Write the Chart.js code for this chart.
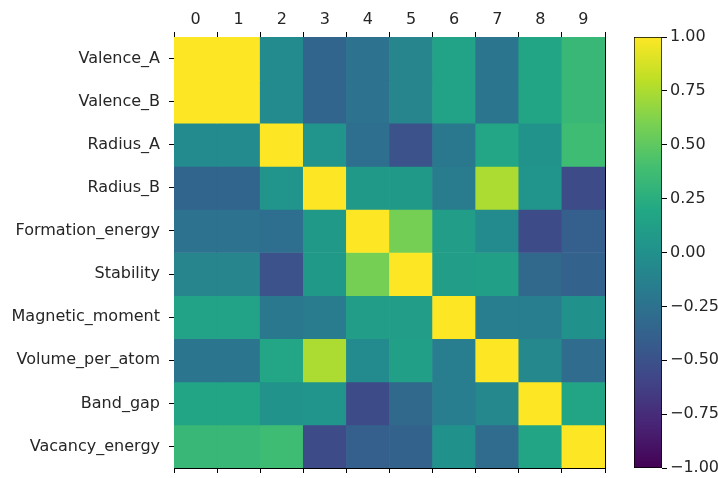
<!DOCTYPE html>
<html>
<head>
<meta charset="utf-8">
<script src="https://cdn.jsdelivr.net/npm/chart.js@4/dist/chart.umd.min.js"></script>
<style>
  html, body { margin: 0; padding: 0; background: #fff; }
  #wrap { position: relative; width: 718px; height: 478px; }
  #heat { position: absolute; left: 0; top: 0; }
  #cbar { position: absolute; left: 620px; top: 0; }
</style>
</head>
<body>
<div id="wrap">
  <canvas id="heat" width="606" height="478"></canvas>
  <canvas id="cbar" width="98" height="478"></canvas>
</div>
<script>
// Feature names (rows) and column indices
const features = ['Valence_A', 'Valence_B', 'Radius_A', 'Radius_B', 'Formation_energy',
                  'Stability', 'Magnetic_moment', 'Volume_per_atom', 'Band_gap', 'Vacancy_energy'];
const columns = ['0', '1', '2', '3', '4', '5', '6', '7', '8', '9'];

// Correlation coefficients, one row per feature
const valenceA        = [ 1.00,  1.00, -0.05, -0.35, -0.25, -0.10,  0.15, -0.22,  0.17,  0.33];
const valenceB        = [ 1.00,  1.00, -0.05, -0.35, -0.25, -0.10,  0.15, -0.22,  0.17,  0.33];
const radiusA         = [-0.05, -0.05,  1.00,  0.03, -0.28, -0.50, -0.20,  0.18,  0.02,  0.37];
const radiusB         = [-0.35, -0.35,  0.03,  1.00,  0.07,  0.07, -0.17,  0.75,  0.03, -0.55];
const formationEnergy = [-0.25, -0.25, -0.28,  0.07,  1.00,  0.58,  0.10, -0.05, -0.55, -0.40];
const stability       = [-0.10, -0.10, -0.50,  0.07,  0.58,  1.00,  0.10,  0.12, -0.32, -0.37];
const magneticMoment  = [ 0.15,  0.15, -0.20, -0.17,  0.10,  0.10,  1.00, -0.15, -0.15,  0.00];
const volumePerAtom   = [-0.22, -0.22,  0.18,  0.75, -0.05,  0.12, -0.15,  1.00, -0.07, -0.30];
const bandGap         = [ 0.17,  0.17,  0.02,  0.03, -0.55, -0.32, -0.15, -0.07,  1.00,  0.17];
const vacancyEnergy   = [ 0.33,  0.33,  0.37, -0.55, -0.40, -0.37,  0.00, -0.30,  0.17,  1.00];

const matrix = [valenceA, valenceB, radiusA, radiusB, formationEnergy,
                stability, magneticMoment, volumePerAtom, bandGap, vacancyEnergy];

// Colour bar range and ticks
const vmin = -1, vmax = 1;
const colorbarTicks = [-1, -0.75, -0.5, -0.25, 0, 0.25, 0.5, 0.75, 1];

// Viridis colormap
const viridisStops = ['#440154', '#482475', '#414487', '#355f8d', '#2a788e', '#21918c',
                      '#22a884', '#44bf70', '#7ad151', '#bddf26', '#fde725'];
function hexToRgb(h) {
  return [parseInt(h.slice(1, 3), 16), parseInt(h.slice(3, 5), 16), parseInt(h.slice(5, 7), 16)];
}
const viridisRgb = viridisStops.map(hexToRgb);
function viridis(v) {
  let t = (v - vmin) / (vmax - vmin);
  t = Math.max(0, Math.min(1, t));
  const pos = t * (viridisRgb.length - 1);
  const i = Math.min(Math.floor(pos), viridisRgb.length - 2);
  const f = pos - i;
  const a = viridisRgb[i], b = viridisRgb[i + 1];
  const c = a.map((x, k) => Math.round(x + (b[k] - x) * f));
  return `rgb(${c[0]},${c[1]},${c[2]})`;
}

const textColor = '#262626';
const font = { family: 'DejaVu Sans', size: 16 };

// Fix an axis' thickness and drop the extra room reserved for edge labels
function fixSize(dim, size) {
  return s => {
    s[dim] = size;
    s.paddingTop = 0; s.paddingBottom = 0; s.paddingLeft = 0; s.paddingRight = 0;
  };
}

// Heatmap: each row is a dataset of floating bars spanning one row band
const datasets = matrix.map((row, i) => ({
  label: features[i],
  data: row.map(() => [i - 0.5, i + 0.5]),
  backgroundColor: row.map(v => viridis(v)),
  borderWidth: 0,
  barPercentage: 1,
  categoryPercentage: 1,
  grouped: false,
  xAxisID: 'x',
  yAxisID: 'y'
}));

new Chart(document.getElementById('heat'), {
  type: 'bar',
  data: { labels: columns, datasets },
  options: {
    responsive: false,
    animation: false,
    layout: { padding: 0 },
    plugins: { legend: { display: false }, tooltip: { enabled: false } },
    scales: {
      x: {
        type: 'category',
        position: 'top',
        offset: true,
        grid: { drawOnChartArea: false, tickLength: 5, color: '#000', tickColor: '#000' },
        border: { display: true, color: '#000', width: 1 },
        ticks: { color: textColor, font, padding: 3, maxRotation: 0 },
        afterFit: fixSize('height', 37)
      },
      x2: {
        type: 'category',
        position: 'bottom',
        labels: columns,
        offset: true,
        grid: { drawOnChartArea: false, tickLength: 5, color: '#000', tickColor: '#000' },
        border: { display: true, color: '#000', width: 1 },
        ticks: { display: false },
        afterFit: fixSize('height', 10)
      },
      y: {
        type: 'linear',
        position: 'left',
        min: -0.5,
        max: 9.5,
        reverse: true,
        afterBuildTicks: s => { s.ticks = features.map((_, i) => ({ value: i })); },
        grid: { drawOnChartArea: false, tickLength: 5, color: '#000', tickColor: '#000' },
        border: { display: true, color: '#000', width: 1 },
        ticks: { color: textColor, font, padding: 9, callback: v => features[v] },
        afterFit: fixSize('width', 174)
      },
      y2: {
        type: 'linear',
        position: 'right',
        min: -0.5,
        max: 9.5,
        grid: { display: false },
        border: { display: true, color: '#000', width: 1 },
        ticks: { display: false },
        afterFit: fixSize('width', 1)
      }
    }
  }
});

// Colour bar: a single floating bar from vmin to vmax filled with the colormap
function colorbarGradient(ctx) {
  const area = ctx.chart.chartArea;
  if (!area) return viridisStops[5];
  const g = ctx.chart.ctx.createLinearGradient(0, area.bottom, 0, area.top);
  viridisStops.forEach((c, i) => g.addColorStop(i / (viridisStops.length - 1), c));
  return g;
}

new Chart(document.getElementById('cbar'), {
  type: 'bar',
  data: {
    labels: [''],
    datasets: [{
      data: [[vmin, vmax]],
      backgroundColor: colorbarGradient,
      borderColor: '#000',
      borderWidth: 1,
      borderSkipped: false,
      barPercentage: 1,
      categoryPercentage: 1
    }]
  },
  options: {
    responsive: false,
    animation: false,
    layout: { padding: { left: 14, top: 37, bottom: 10, right: 0 } },
    plugins: { legend: { display: false }, tooltip: { enabled: false } },
    scales: {
      x: { display: false },
      y: {
        type: 'linear',
        position: 'right',
        min: vmin,
        max: vmax,
        afterBuildTicks: s => { s.ticks = colorbarTicks.map(v => ({ value: v })); },
        grid: { drawOnChartArea: false, tickLength: 5, color: '#000', tickColor: '#000' },
        border: { display: false },
        ticks: {
          color: textColor,
          font,
          padding: 3,
          callback: v => (v < 0 ? '\u2212' : '') + Math.abs(v).toFixed(2)
        },
        afterFit: fixSize('width', 56)
      }
    }
  }
});
</script>
</body>
</html>
